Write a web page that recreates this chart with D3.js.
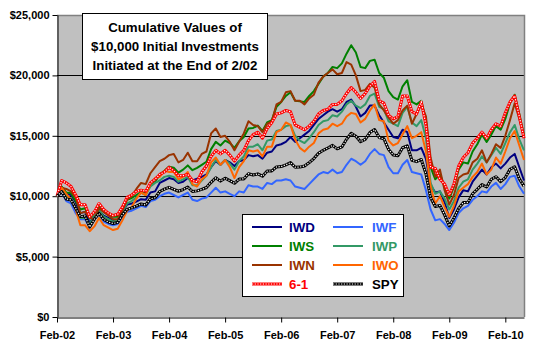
<!DOCTYPE html>
<html>
<head>
<meta charset="utf-8">
<script src="https://cdn.jsdelivr.net/npm/d3@7"></script>
<style>
  body { margin: 0; background: #fff; }
  text { font-family: Arial, "Liberation Sans", sans-serif; }
</style>
</head>
<body>
<svg id="chart" width="550" height="350"></svg>
<script>
// monthly values, $ thousands, Feb-02 .. Jun-10
var IWD = [10.00,10.50,10.20,10.10,9.50,8.60,8.70,7.80,8.30,8.80,
  8.40,8.20,7.95,7.95,8.70,9.30,9.40,9.55,9.75,9.70,
  10.30,10.40,11.10,11.30,11.50,11.40,11.10,11.20,11.50,11.30,
  11.45,11.60,11.80,12.40,12.90,12.60,13.00,12.80,12.50,12.90,
  13.00,13.40,13.30,13.40,13.10,13.60,13.70,14.20,14.30,14.50,
  14.90,14.50,14.80,15.10,15.40,15.90,16.40,16.70,17.00,17.20,
  17.00,17.20,17.80,18.00,17.40,16.60,16.90,17.50,17.50,16.70,
  16.10,15.50,14.90,14.80,15.50,15.30,13.80,13.80,14.00,13.10,
  10.90,10.30,10.40,9.50,8.20,8.90,9.90,10.50,10.40,11.20,
  11.70,12.20,11.80,12.40,12.70,12.30,12.70,13.20,13.50,12.40,
  11.30];
var IWF = [10.00,10.30,9.60,9.40,8.60,8.10,8.10,7.40,8.10,8.50,
  7.90,7.70,7.60,7.70,8.30,8.70,8.80,9.00,9.20,9.10,
  9.60,9.70,10.00,10.20,10.30,10.10,9.90,10.10,10.30,9.70,
  9.60,9.80,9.90,10.30,10.70,10.30,10.40,10.20,10.00,10.40,
  10.30,10.90,10.80,10.80,10.60,11.10,11.00,11.30,11.30,11.40,
  11.30,10.80,10.70,10.60,11.00,11.40,11.80,12.00,11.90,12.20,
  11.90,12.00,12.60,13.10,12.90,12.60,12.90,13.50,13.90,13.50,
  13.40,12.40,11.90,11.90,12.60,13.00,12.00,11.90,11.80,10.50,
  8.90,8.00,8.10,7.70,7.20,7.80,8.60,9.00,9.20,9.70,
  10.00,10.40,10.30,10.80,11.10,10.60,11.00,11.60,11.70,10.80,
  10.20];
var IWS = [10.00,10.80,10.30,10.25,9.60,8.90,9.00,8.15,8.60,9.15,
  8.70,8.45,8.30,8.30,9.10,9.70,9.85,10.10,10.35,10.30,
  10.95,11.20,11.80,12.10,12.45,12.35,11.95,12.20,12.55,12.15,
  12.35,12.60,12.85,13.90,14.50,14.20,14.60,14.40,14.00,14.55,
  14.90,15.60,15.65,15.85,15.40,16.10,16.30,17.40,17.80,18.30,
  18.60,17.90,17.85,17.80,18.30,18.70,19.30,19.90,20.20,20.70,
  20.60,21.00,21.80,22.50,21.90,20.70,20.60,21.20,21.30,20.20,
  19.80,18.70,18.20,18.00,19.10,19.60,17.80,17.60,17.90,16.30,
  12.40,11.40,11.80,10.80,9.80,10.80,12.20,12.80,12.70,13.70,
  14.30,15.10,14.50,15.10,15.80,15.50,16.40,17.70,18.40,16.80,
  15.00];
var IWP = [10.00,10.60,10.00,9.80,9.00,8.20,8.20,7.70,8.30,8.90,
  8.30,8.10,7.90,8.00,8.70,9.40,9.60,9.90,10.30,10.10,
  10.80,11.10,11.30,11.60,11.70,11.60,11.20,11.40,11.60,10.90,
  10.90,11.30,11.70,12.40,13.00,12.60,13.00,12.70,12.20,12.90,
  13.30,14.10,14.10,14.30,13.80,14.60,14.70,15.40,15.50,15.80,
  15.90,15.00,14.60,14.40,14.80,15.30,15.90,16.20,16.30,16.70,
  16.60,17.00,17.60,17.90,17.50,17.30,17.60,18.30,18.50,17.40,
  17.20,16.20,16.00,15.80,16.90,17.40,16.10,15.80,16.30,14.80,
  11.10,10.20,10.40,9.80,8.90,9.60,10.70,11.20,11.40,12.20,
  12.70,13.30,12.80,13.40,14.00,13.50,14.40,15.30,15.90,14.70,
  13.80];
var IWN = [10.00,10.70,10.60,10.40,9.90,8.60,8.70,8.20,8.10,9.00,
  8.70,8.40,8.10,8.10,8.80,9.70,10.00,10.60,11.10,11.00,
  11.90,12.40,12.90,13.10,13.40,13.50,12.80,13.00,13.60,12.90,
  12.90,13.50,13.70,15.20,15.60,14.90,15.00,14.50,13.80,14.50,
  15.20,16.20,15.90,15.80,15.30,16.00,16.20,17.60,17.80,18.60,
  18.70,17.90,17.90,17.60,18.10,18.40,19.40,19.90,20.20,20.50,
  20.10,20.20,21.10,20.90,20.00,18.70,18.80,19.30,19.00,17.60,
  17.10,16.50,16.00,16.30,17.10,17.50,16.00,16.80,17.60,16.60,
  13.20,11.60,12.20,10.50,9.30,10.10,11.50,11.80,11.90,12.80,
  13.10,13.80,12.80,13.50,14.30,14.00,15.00,16.30,17.70,16.40,
  14.90];
var IWO = [10.00,10.70,10.20,9.70,8.90,7.60,7.60,7.10,7.50,8.20,
  7.60,7.40,7.20,7.30,8.00,8.80,9.10,9.80,10.30,10.10,
  11.00,11.50,11.60,12.10,12.00,12.00,11.40,11.60,12.00,11.00,
  10.80,11.40,11.70,12.80,13.20,12.60,13.00,12.40,11.50,12.40,
  12.90,13.80,13.70,13.80,13.30,14.10,14.10,15.30,15.50,16.10,
  15.90,14.70,14.00,13.70,14.10,14.40,15.20,15.50,15.60,16.00,
  15.80,16.00,16.60,16.90,16.80,16.10,16.40,17.10,17.60,16.30,
  16.20,14.60,14.20,14.40,15.10,15.80,14.80,15.00,15.30,13.70,
  10.80,9.40,10.00,9.10,8.30,9.20,10.40,10.70,11.00,11.60,
  12.00,12.70,11.80,12.20,13.20,12.70,13.70,14.80,15.40,14.20,
  13.00];
var SIX_ONE = [10.00,11.30,11.10,10.80,10.10,9.30,9.30,8.30,8.70,9.40,
  8.90,8.60,8.40,8.50,9.10,9.90,10.10,10.40,10.50,10.40,
  11.10,11.40,11.80,12.00,12.40,12.10,11.70,11.70,11.80,11.30,
  11.20,12.00,12.50,13.30,13.80,13.50,13.80,13.40,12.90,13.40,
  13.80,14.60,15.10,15.30,14.80,15.60,16.10,16.80,16.90,17.10,
  17.00,15.90,15.70,15.50,15.80,16.20,16.80,17.10,17.20,17.60,
  17.60,17.90,18.50,19.00,18.60,18.10,18.50,19.10,19.50,17.90,
  17.70,16.70,16.40,16.60,18.30,18.30,17.00,16.80,17.80,15.90,
  12.40,12.30,11.40,11.00,10.10,11.00,12.50,13.20,13.60,14.40,
  14.80,15.30,14.80,15.50,16.00,15.80,16.90,17.80,18.30,16.60,
  14.80];
var SPY = [10.00,10.39,9.76,9.69,9.00,8.31,8.36,7.45,8.10,8.58,
  8.08,7.86,7.74,7.82,8.46,8.91,9.03,9.18,9.36,9.27,
  9.79,9.87,10.39,10.58,10.74,10.57,10.41,10.55,10.76,10.39,
  10.44,10.56,10.72,11.15,11.53,11.25,11.49,11.29,11.07,11.42,
  11.43,11.86,11.75,11.85,11.66,12.08,12.09,12.42,12.45,12.60,
  12.78,12.40,12.41,12.50,12.78,13.12,13.56,13.80,13.99,14.21,
  13.92,14.08,14.71,15.21,14.96,14.51,14.71,15.27,15.52,14.85,
  14.75,13.88,13.41,13.35,14.01,14.17,12.97,12.86,13.04,11.86,
  9.87,9.15,9.23,8.46,7.54,8.20,8.98,9.47,9.49,10.20,
  10.57,10.96,10.76,11.40,11.61,11.21,11.54,12.23,12.44,11.43,
  10.84];

var xTickLabels = ["Feb-02", "Feb-03", "Feb-04", "Feb-05", "Feb-06", "Feb-07", "Feb-08", "Feb-09", "Feb-10"];
var xTickMonths = [0, 12, 24, 36, 48, 60, 72, 84, 96];
var yTicks = [0, 5000, 10000, 15000, 20000, 25000];
var titleLines = ["Cumulative Values of", "$10,000 Initial Investments", "Initiated at the End of 2/02"];

var series = [
    {name: "IWD", values: IWD, color: "#000080"},
    {name: "IWF", values: IWF, color: "#3366ff"},
    {name: "IWS", values: IWS, color: "#008000"},
    {name: "IWP", values: IWP, color: "#339966"},
    {name: "IWN", values: IWN, color: "#993300"},
    {name: "IWO", values: IWO, color: "#ff6600"},
    {name: "6-1", values: SIX_ONE, color: "#ff0000", dotted: true},
    {name: "SPY", values: SPY, color: "#000000", dotted: true}
];

var plot = {left: 57, right: 524, top: 15, bottom: 317};
var svg = d3.select("#chart");

var x = d3.scaleLinear().domain([0, 100]).range([plot.left, plot.right]);
var y = d3.scaleLinear().domain([0, 25000]).range([plot.bottom, plot.top]);

svg.append("rect")
    .attr("x", plot.left).attr("y", plot.top)
    .attr("width", plot.right - plot.left).attr("height", plot.bottom - plot.top)
    .attr("fill", "#c0c0c0");

// gridlines
svg.selectAll(".grid")
    .data(yTicks.filter(function(d) { return d > 0 && d < 25000; }))
    .enter().append("line")
    .attr("class", "grid")
    .attr("x1", plot.left).attr("x2", plot.right)
    .attr("y1", function(d) { return Math.round(y(d)) + 0.5; })
    .attr("y2", function(d) { return Math.round(y(d)) + 0.5; })
    .attr("stroke", "#000").attr("stroke-width", 1);

// gray frame top/right
svg.append("path")
    .attr("d", "M" + plot.left + "," + (plot.top + 0.5) + "H" + (plot.right + 0.5) + "V" + plot.bottom)
    .attr("fill", "none").attr("stroke", "#808080").attr("stroke-width", 1.5);

var yAxis = d3.axisLeft(y).tickValues(yTicks).tickSize(5).tickSizeOuter(0)
    .tickFormat(function(d) { return "$" + d3.format(",")(d); });
var gy = svg.append("g").attr("transform", "translate(" + (plot.left + 0.5) + ",0)").call(yAxis);
gy.selectAll("text").attr("font-size", 11).attr("font-weight", "bold")
    .attr("font-family", "Arial, 'Liberation Sans', sans-serif").attr("fill", "#000");

var xAxis = d3.axisBottom(x).tickValues(xTickMonths).tickSize(5).tickSizeOuter(0)
    .tickFormat(function(d, i) { return xTickLabels[i]; });
var gx = svg.append("g").attr("transform", "translate(0," + (plot.bottom + 0.5) + ")").call(xAxis);
gx.selectAll("text").attr("font-size", 11).attr("font-weight", "bold").attr("dy", "1.2em")
    .attr("font-family", "Arial, 'Liberation Sans', sans-serif").attr("fill", "#000");
svg.selectAll(".domain").attr("stroke", "#000");

var line = d3.line()
    .x(function(d, i) { return x(i); })
    .y(function(d) { return y(d * 1000); });

series.forEach(function(s) {
    svg.append("path")
        .attr("d", line(s.values))
        .attr("fill", "none")
        .attr("stroke", s.color)
        .attr("stroke-width", s.dotted ? 3 : 2)
        .attr("stroke-linejoin", "round");
    if (s.dotted) {
        svg.append("path")
            .attr("d", line(s.values))
            .attr("fill", "none")
            .attr("stroke", "#fff")
            .attr("stroke-width", 1.2)
            .attr("stroke-dasharray", "1.2,1.5");
    }
});

// title box
var title = svg.append("g");
title.append("rect")
    .attr("x", 82.5).attr("y", 13.5).attr("width", 185).attr("height", 66)
    .attr("fill", "#fff").attr("stroke", "#000");
title.selectAll("text")
    .data(titleLines)
    .enter().append("text")
    .attr("x", 175).attr("y", function(d, i) { return 27 + i * 19; })
    .attr("dy", "0.36em")
    .attr("text-anchor", "middle")
    .attr("font-size", 13.3).attr("font-weight", "bold")
    .text(function(d) { return d; });

// legend
var legend = svg.append("g");
legend.append("rect")
    .attr("x", 242.5).attr("y", 214.5).attr("width", 161).attr("height", 82)
    .attr("fill", "#fff").attr("stroke", "#000");

var item = legend.selectAll(".item")
    .data(series)
    .enter().append("g")
    .attr("class", "item")
    .attr("transform", function(d, i) {
        return "translate(" + (i % 2 === 0 ? 252 : 333) + "," + (227 + Math.floor(i / 2) * 19) + ")";
    });

item.append("line")
    .attr("x1", 0).attr("x2", 30)
    .attr("stroke", function(d) { return d.color; })
    .attr("stroke-width", function(d) { return d.dotted ? 3 : 2; });
item.filter(function(d) { return d.dotted; }).append("line")
    .attr("x1", 0).attr("x2", 30)
    .attr("stroke", "#fff").attr("stroke-width", 1.2)
    .attr("stroke-dasharray", "1.2,1.5");
item.append("text")
    .attr("x", function(d, i) { return i % 2 === 0 ? 37 : 39; })
    .attr("dy", "0.36em")
    .attr("font-size", 13.3).attr("font-weight", "bold")
    .attr("fill", function(d) { return d.color; })
    .text(function(d) { return d.name; });
</script>
</body>
</html>
